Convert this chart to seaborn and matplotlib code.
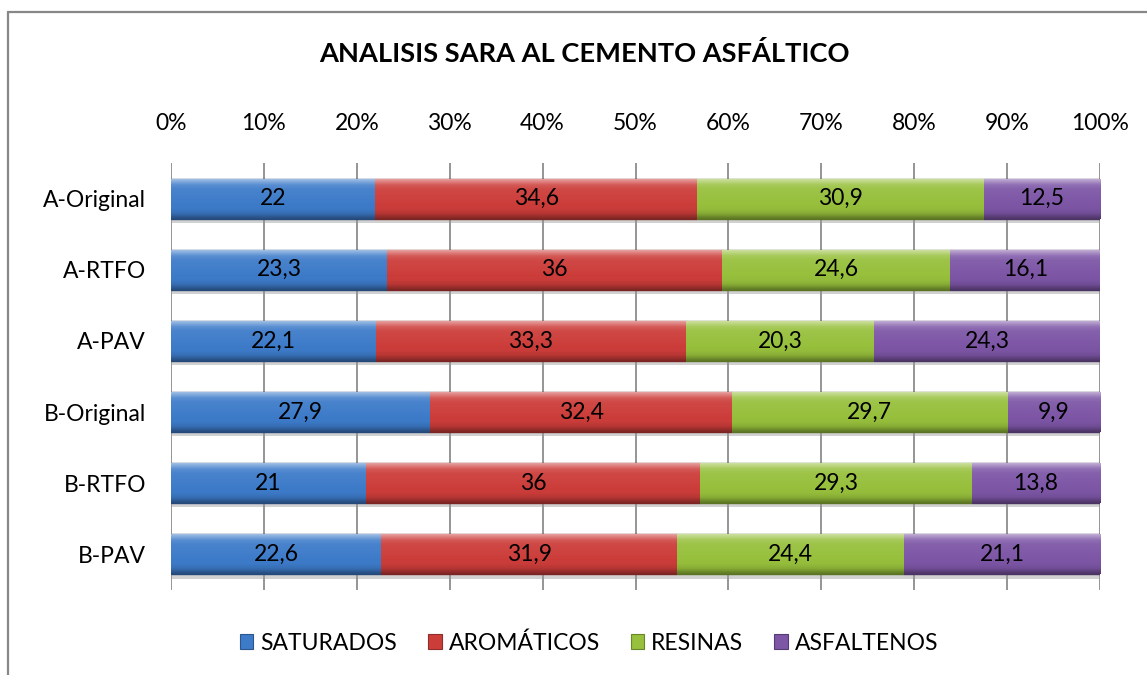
"""
Analisis SARA al cemento asfaltico: barras horizontales apiladas al 100%.
"""
import numpy as np
import pandas as pd
import matplotlib
matplotlib.use("Agg")
import matplotlib.pyplot as plt
import matplotlib.patheffects as pe
from matplotlib.colors import to_rgb
from matplotlib.lines import Line2D
from matplotlib.patches import Patch
import seaborn as sns

# Datos
muestras = ["A-Original", "A-RTFO", "A-PAV", "B-Original", "B-RTFO", "B-PAV"]
saturados = [22, 23.3, 22.1, 27.9, 21, 22.6]
aromaticos = [34.6, 36, 33.3, 32.4, 36, 31.9]
resinas = [30.9, 24.6, 20.3, 29.7, 29.3, 24.4]
asfaltenos = [12.5, 16.1, 24.3, 9.9, 13.8, 21.1]

fracciones = ["SATURADOS", "AROMÁTICOS", "RESINAS", "ASFALTENOS"]
colores = ["#3d7bc9", "#cc3d3a", "#97c03c", "#7d56a6"]
ticks = list(range(0, 101, 10))


def gradiente(color, n=60):
    """Degradado vertical tipo bisel (arriba claro, abajo oscuro)"""
    base = np.array(to_rgb(color))
    t = np.linspace(0, 1, n)
    # >0 aclara hacia blanco, <0 oscurece
    puntos_t = [0.0, 0.06, 0.14, 0.25, 0.75, 0.86, 0.94, 1.0]
    puntos_f = [0.50, 0.35, 0.15, 0.06, -0.02, -0.10, -0.26, -0.38]
    f = np.interp(t, puntos_t, puntos_f)
    filas = []
    for v in f:
        if v >= 0:
            filas.append(base + (1 - base) * v)
        else:
            filas.append(base * (1 + v))
    return np.array(filas)[:, None, :]


def biselar(ax, barras, color):
    img = gradiente(color)
    for p in barras.patches:
        x0, y0 = p.get_x(), p.get_y()
        w, h = p.get_width(), p.get_height()
        im = ax.imshow(img, extent=(x0, x0 + w, y0, y0 + h), origin="lower",
                       aspect="auto", interpolation="bilinear", zorder=2.5)
        im.set_clip_path(p)


def main():
    df = pd.DataFrame({
        "muestra": muestras,
        fracciones[0]: saturados,
        fracciones[1]: aromaticos,
        fracciones[2]: resinas,
        fracciones[3]: asfaltenos,
    })
    valores = df[fracciones]
    pct = valores.div(valores.sum(axis=1), axis=0) * 100
    izquierda = pct.cumsum(axis=1) - pct

    sns.set_theme(style="white")
    plt.rcParams["font.family"] = ["Lato", "DejaVu Sans"]
    plt.rcParams["text.color"] = "black"

    fig = plt.figure(figsize=(11.47, 6.75), dpi=100)
    ax = fig.add_axes([171 / 1147, 1 - 590 / 675, 929 / 1147, 427 / 675])

    for i, frac in enumerate(fracciones):
        oscuro = np.array(to_rgb(colores[i])) * 0.6
        sns.barplot(x=pct[frac].values, y=df["muestra"], orient="h",
                    left=izquierda[frac].values, color=colores[i], width=0.56,
                    edgecolor=oscuro, linewidth=1.0, zorder=2, ax=ax)
        barras = ax.containers[-1]
        for p in barras.patches:
            p.set_path_effects([pe.SimplePatchShadow(offset=(0, -3), shadow_rgbFace="#9a9a9a",
                                                     alpha=0.45), pe.Normal()])
        biselar(ax, barras, colores[i])
        etiquetas = [f"{v:g}".replace(".", ",") for v in valores[frac]]
        for j, txt in enumerate(etiquetas):
            xc = izquierda[frac].iloc[j] + pct[frac].iloc[j] / 2
            ax.text(xc, j, txt, ha="center", va="center", fontsize=16.5,
                    color="black", zorder=4)

    ax.set_xlim(0, 100)
    ax.set_ylim(5.5, -0.5)
    ax.set_xticks(ticks)
    ax.set_xticklabels([f"{t}%" for t in ticks])
    ax.xaxis.tick_top()
    ax.tick_params(axis="x", length=0, pad=21, labelsize=16.5, colors="black")
    ax.tick_params(axis="y", length=0, pad=18, labelsize=16.5, colors="black")
    ax.set_xlabel("")
    ax.set_ylabel("")
    ax.grid(axis="x", color="#8c8c8c", linewidth=1.3)
    ax.grid(axis="y", visible=False)
    ax.set_axisbelow(True)
    for s in ax.spines.values():
        s.set_visible(False)

    fig.text(584 / 1147, 1 - 54 / 675, "ANALISIS SARA AL CEMENTO ASFÁLTICO",
             ha="center", va="center", fontsize=19.6, fontweight="bold", color="black")

    manejadores = [Patch(facecolor=c, edgecolor=np.array(to_rgb(c)) * 0.7, linewidth=0.8)
                   for c in colores]
    fig.legend(manejadores, fracciones, loc="center", ncol=4,
               bbox_to_anchor=(589 / 1147, 1 - 643 / 675), frameon=False,
               fontsize=16.5, handlelength=0.6, handleheight=0.6, handletextpad=0.3,
               columnspacing=1.35)

    # marco del grafico (solo visible arriba e izquierda)
    fig.add_artist(Line2D([8 / 1147, 8 / 1147], [0, 1 - 12 / 675],
                          color="#878787", linewidth=1.6))
    fig.add_artist(Line2D([8 / 1147, 1], [1 - 12 / 675, 1 - 12 / 675],
                          color="#878787", linewidth=1.6))

    fig.savefig("out.png", dpi=100)
    plt.close(fig)


if __name__ == "__main__":
    main()
